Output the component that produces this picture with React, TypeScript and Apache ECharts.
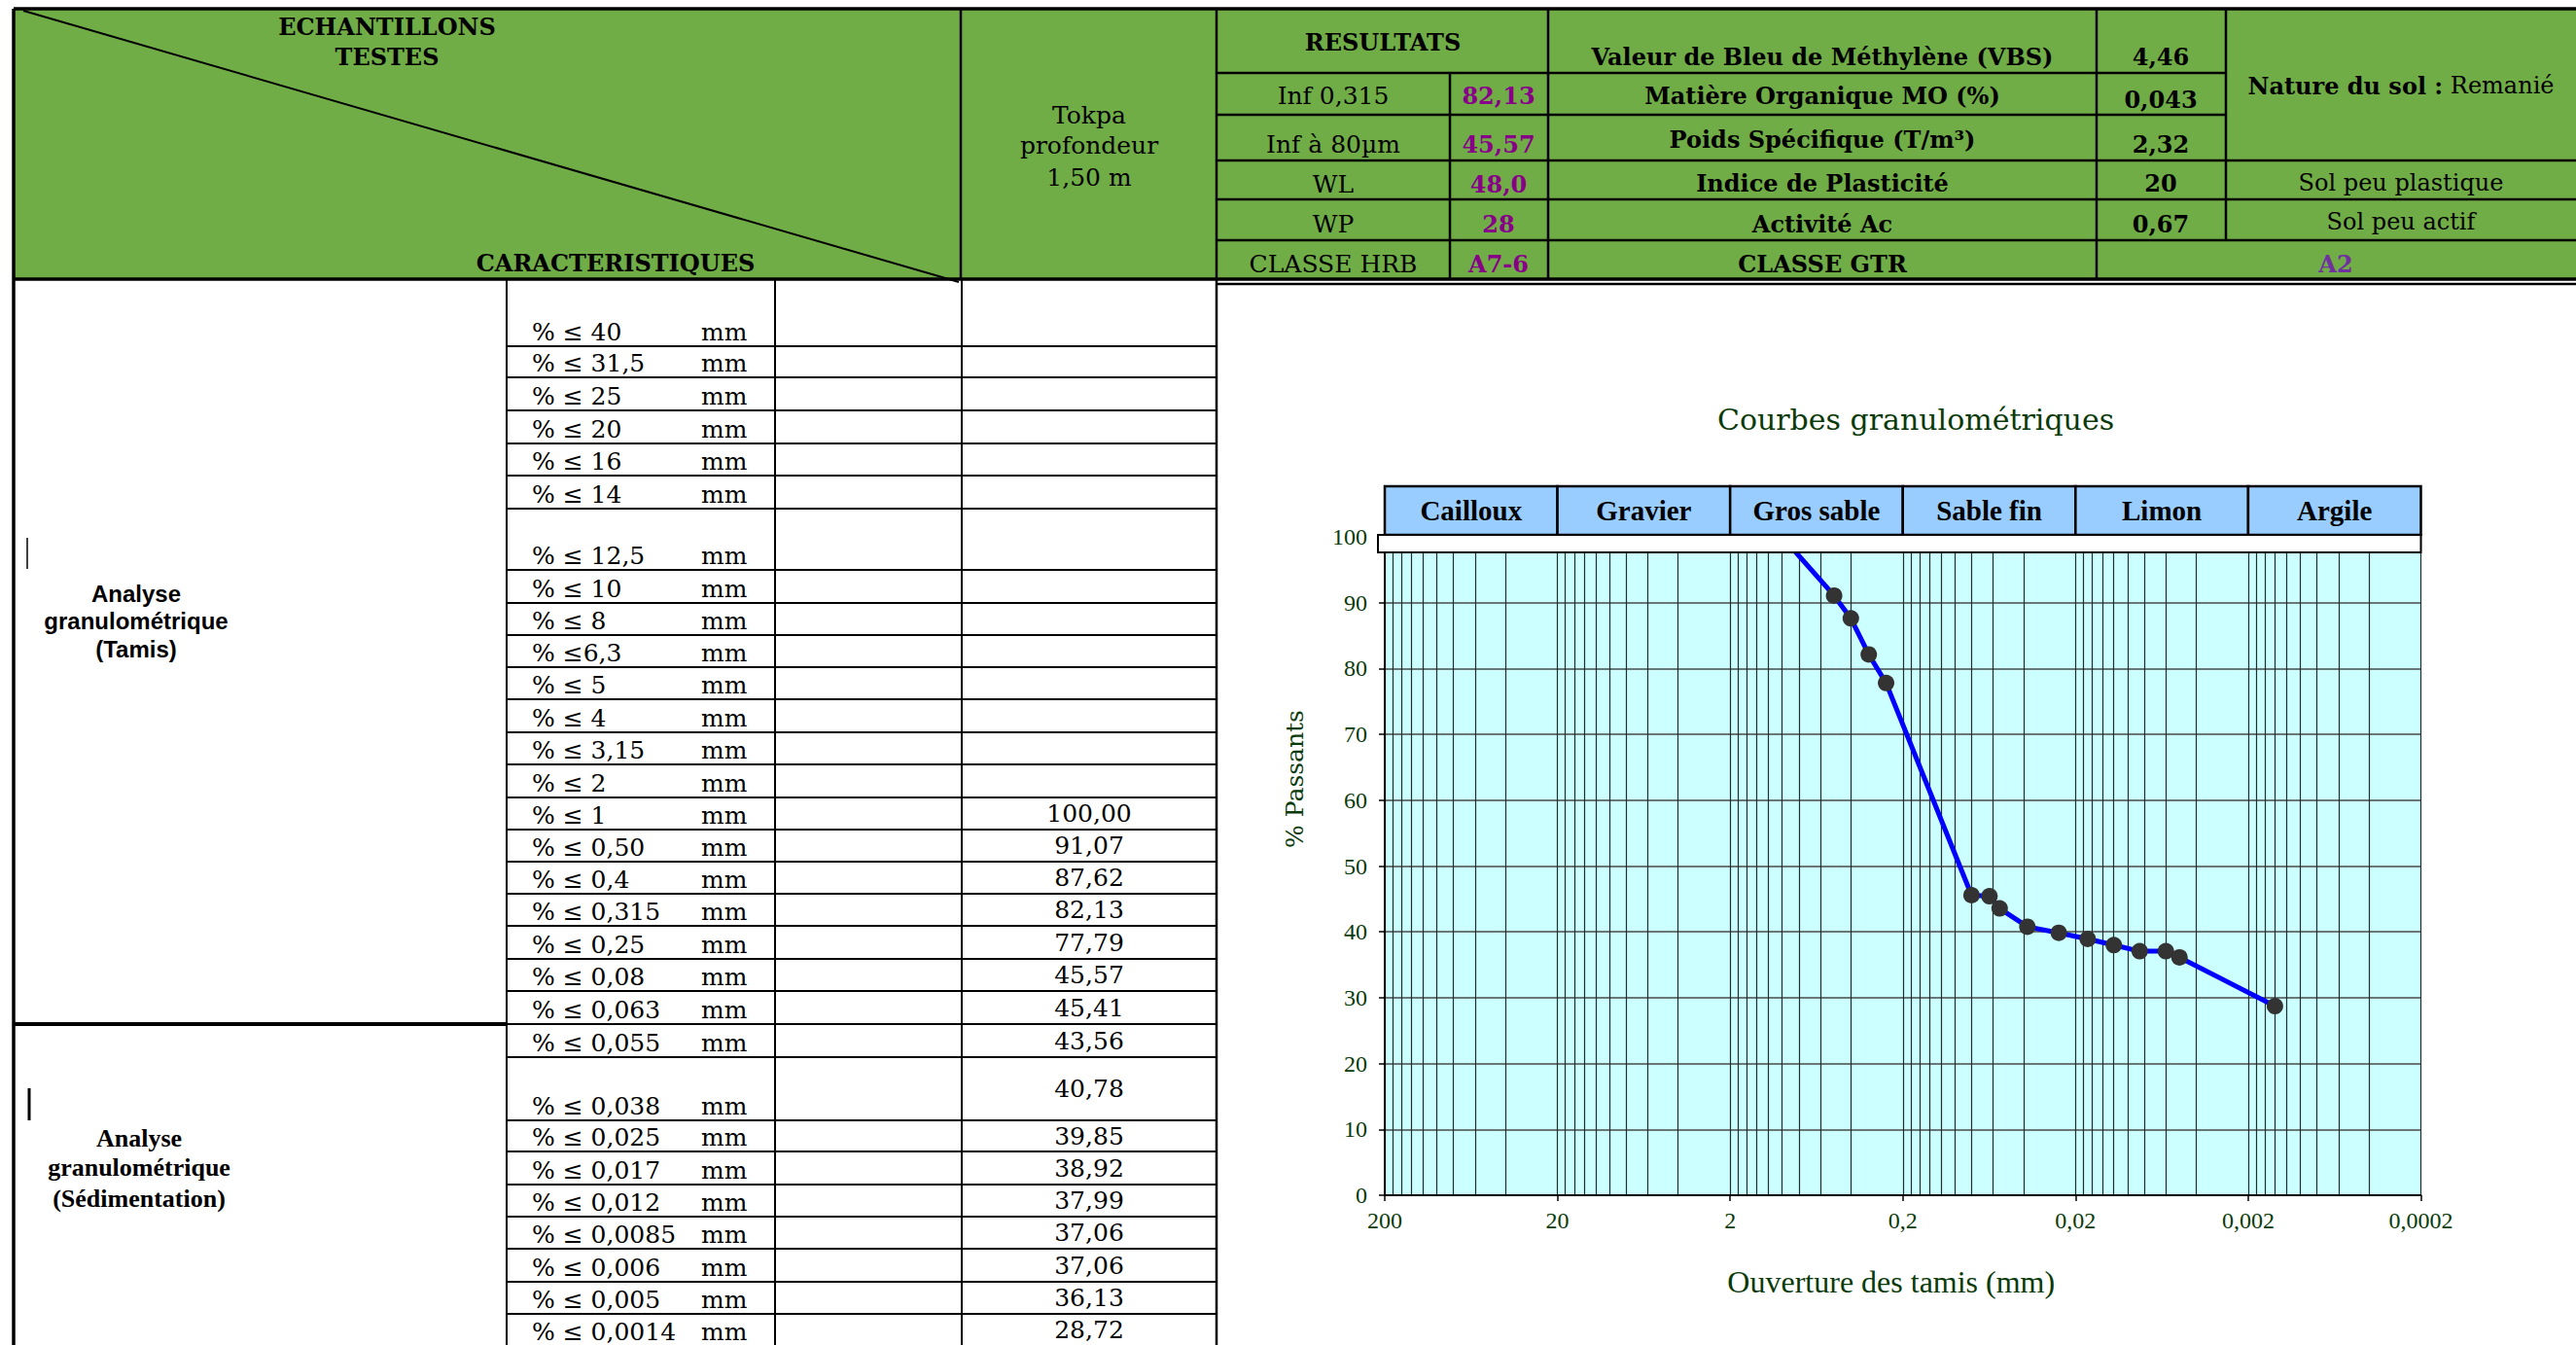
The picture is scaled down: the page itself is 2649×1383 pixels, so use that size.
import React, { useEffect, useRef } from "react";
import * as echarts from "echarts";

// ---------------- data ----------------
const sieveOpeningsMm = [1, 0.5, 0.4, 0.315, 0.25, 0.08, 0.063, 0.055, 0.038, 0.025, 0.017, 0.012, 0.0085, 0.006, 0.005, 0.0014];
const percentPassing = [100, 91.07, 87.62, 82.13, 77.79, 45.57, 45.41, 43.56, 40.78, 39.85, 38.92, 37.99, 37.06, 37.06, 36.13, 28.72];
const xAxisTickValues = [200, 20, 2, 0.2, 0.02, 0.002, 0.0002];
const gridDecadeStarts = [0.0002, 0.002, 0.02, 0.2, 2, 20];
const gridSubdivisions = [1, 2, 3, 4, 5, 6, 7, 8, 9];
const soilClassNames = ["Cailloux", "Gravier", "Gros sable", "Sable fin", "Limon", "Argile"];
const soilClassBounds = [200, 20, 2, 0.2, 0.02, 0.002, 0.0002];

const tableSieveLabels = ["40", "31,5", "25", "20", "16", "14", "12,5", "10", "8", "6,3", "5", "4", "3,15", "2", "1", "0,50", "0,4", "0,315", "0,25", "0,08", "0,063", "0,055", "0,038", "0,025", "0,017", "0,012", "0,0085", "0,006", "0,005", "0,0014"];
const resultLabels = ["Inf 0,315", "Inf à 80µm", "WL", "WP", "CLASSE HRB"];
const resultValues = ["82,13", "45,57", "48,0", "28", "A7-6"];
const propertyLabels = ["Valeur de Bleu de Méthylène (VBS)", "Matière Organique MO (%)", "Poids Spécifique (T/m³)", "Indice de Plasticité", "Activité Ac", "CLASSE GTR"];
const propertyValues = ["4,46", "0,043", "2,32", "20", "0,67"];
const propertyRemarks = ["Sol peu plastique", "Sol peu actif"];
const gtrClass = "A2";

// ---------------- layout ----------------
const W = 2649;
const H = 1383;
const SERIF = '"DejaVu Serif"';
const TIMES = '"Liberation Serif"';
const SANS = '"Liberation Sans"';
const GREEN_BG = "#70AD47";
const DARK_GREEN = "#0A3A0A";
const PURPLE = "#880088";
const VIOLET = "#7030A0";
const ROW_Y = [287, 356, 388, 422, 456, 489, 523, 586, 620, 653, 686, 719, 753, 786, 820, 853, 886, 919, 952, 986, 1019, 1053, 1087, 1152, 1184, 1218, 1251, 1284, 1318, 1351, 1384];
const PLOT = { left: 1424, top: 552, width: 1065.5, height: 677 };

function fmtNum(v: number): string {
  const n = parseFloat(Number(v).toPrecision(6));
  return String(n).replace(".", ",");
}

function buildGraphics(): any[] {
  const G: any[] = [];
  const line = (x1: number, y1: number, x2: number, y2: number, w = 2, z = 1) =>
    G.push({ type: "line", silent: true, z, shape: { x1, y1, x2, y2 }, style: { stroke: "#000", lineWidth: w } });
  const text = (t: string, x: number, y: number, font: string, fill = "#000", align = "center", z = 2) =>
    G.push({ type: "text", silent: true, z, x, y, style: { text: t, font, fill, align, verticalAlign: "middle" } });

  // ---- header band ----
  G.push({ type: "rect", silent: true, z: 0, shape: { x: 14, y: 9, width: W - 14, height: 278 }, style: { fill: GREEN_BG } });
  line(14, 9, W, 9, 3.5);
  line(14, 287, W, 287, 3.5);
  line(14, 9, 14, H, 3.5);
  [988, 1251, 1592, 2156].forEach((x) => line(x, 9, x, 287, 2.5));
  line(2289, 9, 2289, 247, 2.5);
  line(1491, 75, 1491, 287, 2.5);
  [75, 118].forEach((y) => line(1251, y, 2289, y, 2.5));
  [165, 205, 247].forEach((y) => line(1251, y, W, y, 2.5));
  line(24, 11, 986, 290, 2);

  const bold = `bold 24px ${SERIF}`;
  const reg = `24px ${SERIF}`;
  text("ECHANTILLONS", 398, 27, bold);
  text("TESTES", 398, 58, bold);
  text("CARACTERISTIQUES", 633, 270, bold);
  text("Tokpa", 1120, 118, `25px ${SERIF}`);
  text("profondeur", 1120, 149, `25px ${SERIF}`);
  text("1,50 m", 1120, 182, `25px ${SERIF}`);
  text("RESULTATS", 1422, 43, bold);

  const resY = [98, 148, 189, 230, 271];
  resultLabels.forEach((t, i) => text(t, 1371, resY[i], `25px ${SERIF}`));
  resultValues.forEach((t, i) => text(t, 1541, resY[i], bold, PURPLE));
  const propY = [58, 98, 143, 188, 230, 271];
  propertyLabels.forEach((t, i) => text(t, 1874, propY[i], bold));
  const pvY = [58, 102, 148, 188, 230];
  propertyValues.forEach((t, i) => text(t, 2222, pvY[i], bold));
  text(propertyRemarks[0], 2469, 188, reg);
  text(propertyRemarks[1], 2469, 228, reg);
  text(gtrClass, 2402, 271, bold, VIOLET);
  G.push({
    type: "text", silent: true, z: 2, x: 2469, y: 88,
    style: {
      text: "{b|Nature du sol :} Remanié",
      font: reg, fill: "#000", align: "center", verticalAlign: "middle",
      rich: { b: { fontWeight: "bold", fontSize: 24, fontFamily: "DejaVu Serif", fill: "#000" } },
    },
  });

  // ---- left table ----
  [521, 797, 989].forEach((x) => line(x, 287, x, H, 2));
  line(1251, 287, 1251, H, 2.5);
  ROW_Y.slice(1).forEach((y) => line(521, y, 1251, y, 2));
  line(14, 1053, 521, 1053, 4);
  line(28, 553, 28, 585, 1.5);
  line(30, 1119, 30, 1152, 3);
  // chart frame
  line(1251, 292, W, 292, 2.5);

  const firstValueRow = tableSieveLabels.length - percentPassing.length;
  tableSieveLabels.forEach((s, i) => {
    const top = ROW_Y[i];
    const bottom = ROW_Y[i + 1];
    const lbl = s === "6,3" ? "% ≤6,3" : `% ≤ ${s}`;
    text(lbl, 547, bottom - 15, `25px ${SERIF}`, "#000", "left");
    text("mm", 721, bottom - 15, `25px ${SERIF}`, "#000", "left");
    if (i >= firstValueRow) {
      text(percentPassing[i - firstValueRow].toFixed(2).replace(".", ","), 1120, (top + bottom) / 2, `25px ${SERIF}`);
    }
  });

  text("Analyse", 140, 610, `bold 24px ${SANS}`);
  text("granulométrique", 140, 638, `bold 24px ${SANS}`);
  text("(Tamis)", 140, 667, `bold 24px ${SANS}`);
  text("Analyse", 143, 1170, `bold 26px ${TIMES}`);
  text("granulométrique", 143, 1200, `bold 26px ${TIMES}`);
  text("(Sédimentation)", 143, 1232, `bold 26px ${TIMES}`);

  // ---- chart decorations ----
  text("Courbes granulométriques", 1970, 431, `30px ${SERIF}`, DARK_GREEN);
  G.push({
    type: "text", silent: true, z: 2, x: 1331, y: 801, rotation: Math.PI / 2,
    style: { text: "% Passants", font: `25px ${SERIF}`, fill: DARK_GREEN, align: "center", verticalAlign: "middle" },
  });
  // white strip below the class header
  G.push({
    type: "rect", silent: true, z: 100,
    shape: { x: 1417, y: 550, width: PLOT.left + PLOT.width - 1417, height: 18 },
    style: { fill: "#fff", stroke: "#000", lineWidth: 2 },
  });
  return G;
}

export default function App() {
  const ref = useRef<HTMLDivElement>(null);
  useEffect(() => {
    if (!ref.current) return;
    const chart = echarts.init(ref.current, null, { renderer: "svg" });
    const gridValues = [
      ...gridDecadeStarts.flatMap((b) => gridSubdivisions.map((m) => parseFloat((b * m).toPrecision(6)))),
      200,
    ];
    const logAxisBase = { type: "log", logBase: 10, min: 0.0002, max: 200, inverse: true };
    chart.setOption({
      animation: false,
      backgroundColor: "#fff",
      grid: [
        { left: PLOT.left, top: PLOT.top, width: PLOT.width, height: PLOT.height, show: true, backgroundColor: "#CCFFFF", borderWidth: 0 },
        { left: PLOT.left, top: 500, width: PLOT.width, height: 50, show: false },
      ],
      xAxis: [
        {
          ...logAxisBase, gridIndex: 0, position: "bottom",
          axisLine: { show: true, onZero: false, lineStyle: { color: "#000", width: 2 } },
          axisTick: { show: true, length: 6, lineStyle: { color: "#000", width: 1.5 }, customValues: xAxisTickValues },
          axisLabel: { show: true, customValues: xAxisTickValues, formatter: (v: number) => fmtNum(v), margin: 14, color: DARK_GREEN, fontFamily: "Liberation Serif", fontSize: 24 },
          splitLine: { show: false },
          name: "Ouverture des tamis (mm)", nameLocation: "middle", nameGap: 73,
          nameTextStyle: { color: DARK_GREEN, fontFamily: "Liberation Serif", fontSize: 32, padding: [0, 24, 0, 0] },
        },
        {
          ...logAxisBase, gridIndex: 0, position: "bottom",
          axisLine: { show: false },
          axisTick: { show: false, customValues: gridValues },
          axisLabel: { show: false },
          splitLine: { show: true, lineStyle: { color: "#1f2f2f", width: 1.2 } },
        },
        { ...logAxisBase, gridIndex: 1, show: false },
      ],
      yAxis: [
        {
          type: "value", gridIndex: 0, min: 0, max: 100, interval: 10,
          axisLine: { show: true, lineStyle: { color: "#000", width: 2 } },
          axisTick: { show: true, length: 6, lineStyle: { color: "#000", width: 1.5 } },
          axisLabel: { margin: 18, color: DARK_GREEN, fontFamily: "Liberation Serif", fontSize: 24 },
          splitLine: { show: true, lineStyle: { color: "#4a4a4a", width: 1.6 } },
        },
        { type: "value", gridIndex: 1, min: 0, max: 1, show: false },
      ],
      series: [
        {
          type: "line", xAxisIndex: 0, yAxisIndex: 0, z: 5,
          data: sieveOpeningsMm.map((d, i) => [d, percentPassing[i]]),
          lineStyle: { color: "#0000FF", width: 5 },
          symbol: "circle", symbolSize: 17,
          itemStyle: { color: "#333333" },
        },
        {
          type: "line", xAxisIndex: 2, yAxisIndex: 1, data: [], z: 50,
          markArea: {
            silent: true, z: 50,
            itemStyle: { color: "#99CCFF", borderColor: "#000", borderWidth: 2.5 },
            label: { show: true, position: "inside", color: "#000", fontFamily: "Liberation Serif", fontWeight: "bold", fontSize: 29 },
            data: soilClassNames.map((n, i) => [{ name: n, xAxis: soilClassBounds[i] }, { xAxis: soilClassBounds[i + 1] }]),
          },
        },
      ],
      graphic: buildGraphics(),
    });
    return () => chart.dispose();
  }, []);
  return <div ref={ref} style={{ position: "absolute", left: 0, top: 0, width: W, height: H }} />;
}
